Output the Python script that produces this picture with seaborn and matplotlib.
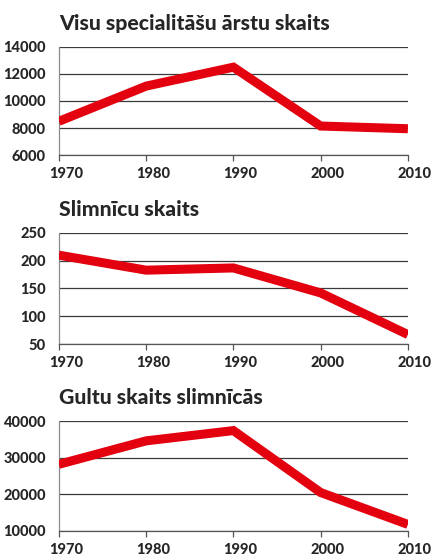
import numpy as np
import pandas as pd
import seaborn as sns
from matplotlib import pyplot as plt
from matplotlib.transforms import ScaledTranslation

years = [1970, 1980, 1990, 2000, 2010]
arsti = [8500, 11100, 12500, 8150, 7950]
slimnicas = [210, 183, 187, 142, 67]
gultas = [28200, 34600, 37400, 20500, 11800]

titles = ['Visu specialitāšu ārstu skaits', 'Slimnīcu skaits', 'Gultu skaits slimnīcās']
yticks = [[6000, 8000, 10000, 12000, 14000],
          [50, 100, 150, 200, 250],
          [10000, 20000, 30000, 40000]]

sns.set_style('white')
plt.rcParams['font.family'] = ['Lato', 'DejaVu Sans']
plt.rcParams['font.weight'] = 'black'

fig = plt.figure(figsize=(4.33, 5.58), dpi=100)
# axes boxes in figure fractions
boxes = [[0.136, 0.722, 0.806, 0.194],
         [0.136, 0.3835, 0.806, 0.199],
         [0.136, 0.0484, 0.806, 0.197]]

for box, vals, title, yt in zip(boxes, [arsti, slimnicas, gultas], titles, yticks):
    ax = fig.add_axes(box)
    df = pd.DataFrame({'year': years, 'value': vals})
    sns.lineplot(data=df, x='year', y='value', ax=ax, color='#e3000f',
                 linewidth=6.5, solid_capstyle='butt', solid_joinstyle='miter', zorder=3)
    ax.set_xlim(1970, 2010)
    ax.set_ylim(yt[0], yt[-1])
    ax.set_xticks(years, labels=[str(y) for y in years], fontweight='black', fontsize=10.5)
    ax.set_yticks(yt, labels=[str(v) for v in yt], fontweight='black', fontsize=10.5)
    ax.set_xlabel('')
    ax.set_ylabel('')
    ax.grid(axis='y', color='#3a3a3a', linewidth=0.9)
    for s in ['top', 'right']:
        ax.spines[s].set_visible(False)
    ax.spines['left'].set_color('#8a8a8a')
    ax.spines['bottom'].set_color('#555555')
    ax.spines['left'].set_linewidth(0.9)
    ax.spines['bottom'].set_linewidth(0.9)
    ax.tick_params(axis='x', bottom=True, length=4, width=0.9, color='#555555', pad=4.5)
    ax.tick_params(axis='y', left=False, pad=6)
    shift = ScaledTranslation(5 / 72, 0, fig.dpi_scale_trans)
    for lbl in ax.get_xticklabels():
        lbl.set_transform(lbl.get_transform() + shift)
    ax.text(0.0, 1.13, title, transform=ax.transAxes, fontsize=15.2,
            fontweight='black', va='bottom', ha='left')

fig.savefig('out.png', dpi=100)
